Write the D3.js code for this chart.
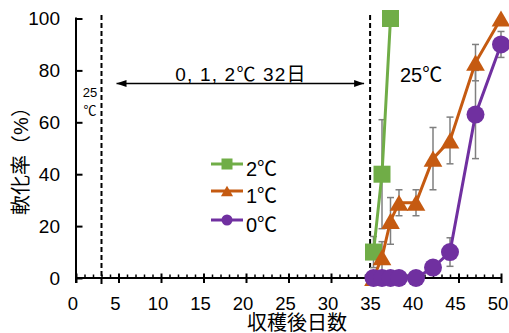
<!DOCTYPE html>
<html><head><meta charset="utf-8">
<script src="https://cdn.jsdelivr.net/npm/d3@7"></script>
<style>
html,body{margin:0;padding:0;background:#fff;}
svg{display:block;}
text{font-family:"Liberation Sans","Noto Sans CJK JP",sans-serif;fill:#000;}
</style></head>
<body>
<svg id="c" width="509" height="333"></svg>
<script>
// ---- data ----
const days2 = [35, 36, 37];
const soft2 = [10, 40, 100];
const err2  = [6, 21, 0];
const days1 = [35, 36, 37, 38, 40, 42, 44, 47, 50];
const soft1 = [0, 8, 22, 29, 29, 46, 53, 83, 100];
const err1  = [0, 6, 9, 5, 5, 12, 9, 7, 0];
const days0 = [35, 36, 37, 38, 40, 42, 44, 47, 50];
const soft0 = [0, 0, 0, 0, 0, 4, 10, 63, 90];
const err0  = [0, 0, 0, 0, 0, 1, 5.5, 17, 5];
const xTicks = [0, 5, 10, 15, 20, 25, 30, 35, 40, 45, 50];
const yTicks = [0, 20, 40, 60, 80, 100];
const seriesNames = ["2℃", "1℃", "0℃"];
const storageStart = 3, storageEnd = 34.6;

const svg = d3.select("#c");
const x = d3.scaleLinear().domain([0, 50]).range([76, 501]);
const y = d3.scaleLinear().domain([0, 100]).range([278, 18.5]);

const series = [
  {name: seriesNames[0], days: days2, v: soft2, e: err2, color: "#70AD47", shape: "square"},
  {name: seriesNames[1], days: days1, v: soft1, e: err1, color: "#C55A11", shape: "triangle"},
  {name: seriesNames[2], days: days0, v: soft0, e: err0, color: "#7030A0", shape: "circle"}
];

// dashed lines
[storageStart, storageEnd].forEach(d => {
  svg.append("line").attr("x1", x(d)).attr("x2", x(d)).attr("y1", 15).attr("y2", 287)
    .attr("stroke", "#000").attr("stroke-width", 2).attr("stroke-dasharray", "5,3");
});

// axes
const xMinor = d3.range(0, 51).filter(d => d % 5 !== 0);
svg.append("g").attr("transform", `translate(0,${y(0)})`)
  .call(d3.axisBottom(x).tickValues(xMinor).tickSize(-3.5).tickFormat(""))
  .call(g => g.select(".domain").remove())
  .selectAll("line").attr("stroke", "#000").attr("stroke-width", 1.5);
const gx = svg.append("g").attr("transform", `translate(0,${y(0)})`)
  .call(d3.axisBottom(x).tickValues(xTicks).tickSize(4.5).tickSizeOuter(0).tickPadding(14));
gx.select(".domain").remove();
gx.selectAll(".tick line").attr("y1", -4.5).attr("y2", 5).attr("stroke", "#000").attr("stroke-width", 2);
gx.selectAll(".tick text").attr("font-size", 18.5).attr("font-family", "Liberation Sans").attr("x", -3.5);
svg.append("line").attr("x1", x(0)).attr("x2", x(50)).attr("y1", y(0)).attr("y2", y(0))
  .attr("stroke", "#000").attr("stroke-width", 2);

const gy = svg.append("g").attr("transform", `translate(${x(0)},0)`)
  .call(d3.axisLeft(y).tickValues(yTicks).tickSize(-6.5).tickSizeOuter(0).tickPadding(16));
gy.select(".domain").remove();
gy.selectAll(".tick line").attr("stroke", "#000").attr("stroke-width", 2);
gy.selectAll(".tick text").attr("font-size", 19).attr("font-family", "Liberation Sans");
svg.append("line").attr("x1", x(0)).attr("x2", x(0)).attr("y1", y(100) - 1).attr("y2", y(0) + 5)
  .attr("stroke", "#000").attr("stroke-width", 2);

// error bars
series.forEach(s => {
  s.days.forEach((d, i) => {
    if (!s.e[i]) return;
    const cx = x(d), top = y(s.v[i] + s.e[i]), bot = y(Math.max(0, s.v[i] - s.e[i]));
    const g = svg.append("g").attr("stroke", "#7f7f7f").attr("stroke-width", 1.5);
    g.append("line").attr("x1", cx).attr("x2", cx).attr("y1", top).attr("y2", bot);
    g.append("line").attr("x1", cx - 3.5).attr("x2", cx + 3.5).attr("y1", top).attr("y2", top);
    g.append("line").attr("x1", cx - 3.5).attr("x2", cx + 3.5).attr("y1", bot).attr("y2", bot);
  });
});

function marker(g, shape, cx, cy, size, color) {
  if (shape === "square") {
    g.append("rect").attr("x", cx - size / 2).attr("y", cy - size / 2).attr("width", size).attr("height", size).attr("fill", color);
  } else if (shape === "circle") {
    g.append("circle").attr("cx", cx).attr("cy", cy).attr("r", size / 2).attr("fill", color);
  } else {
    const h = size * 0.95, w = size * 1.1;
    g.append("path").attr("d", `M${cx},${cy - h / 2}L${cx + w / 2},${cy + h / 2}L${cx - w / 2},${cy + h / 2}Z`).attr("fill", color);
  }
}

// series
const line = d3.line().x(d => x(d[0])).y(d => y(d[1]));
series.forEach(s => {
  const pts = s.days.map((d, i) => [d, s.v[i]]);
  svg.append("path").attr("d", line(pts)).attr("fill", "none").attr("stroke", s.color).attr("stroke-width", 3);
  const g = svg.append("g");
  const sz = s.shape === "circle" ? 18 : 17;
  pts.forEach(p => marker(g, s.shape, x(p[0]), y(p[1]), sz, s.color));
});

// legend
const legY = [164, 191, 220];
series.forEach((s, i) => {
  const g = svg.append("g");
  g.append("line").attr("x1", 211).attr("x2", 243).attr("y1", legY[i]).attr("y2", legY[i]).attr("stroke", s.color).attr("stroke-width", 3);
  marker(g, s.shape, 227, legY[i], 11, s.color);
  g.append("text").attr("x", 246).attr("y", legY[i] + 12).attr("font-size", 20).text(s.name);
});

// annotations
const defs = svg.append("defs");
defs.append("marker").attr("id", "ah").attr("viewBox", "0 0 10 10").attr("refX", 10).attr("refY", 5)
  .attr("markerWidth", 10).attr("markerHeight", 10).attr("markerUnits", "userSpaceOnUse").attr("orient", "auto-start-reverse")
  .append("path").attr("d", "M0,1.5L10,5L0,8.5Z").attr("fill", "#000");
svg.append("line").attr("x1", x(storageStart) + 15).attr("x2", x(storageEnd) - 6).attr("y1", 83.5).attr("y2", 83.5)
  .attr("stroke", "#000").attr("stroke-width", 1.3).attr("marker-start", "url(#ah)").attr("marker-end", "url(#ah)");
svg.append("text").attr("x", 241).attr("y", 81).attr("text-anchor", "middle").attr("font-size", 19)
  .attr("letter-spacing", 1.2).text("0, 1, 2℃ 32日");
svg.append("text").attr("x", 400).attr("y", 82).attr("font-size", 20).text("25℃");
svg.append("text").attr("x", 90).attr("y", 97).attr("text-anchor", "middle").attr("font-size", 13).text("25");
svg.append("text").attr("x", 90).attr("y", 115).attr("text-anchor", "middle").attr("font-size", 13).text("℃");

// axis titles
svg.append("text").attr("transform", "translate(28,156) rotate(-90)").attr("text-anchor", "middle")
  .attr("font-size", 20).attr("font-family", "Noto Sans CJK JP").text("軟化率（%）");
svg.append("text").attr("x", 297).attr("y", 330).attr("text-anchor", "middle")
  .attr("font-size", 20).attr("font-family", "Noto Sans CJK JP").text("収穫後日数");
</script>
</body></html>
